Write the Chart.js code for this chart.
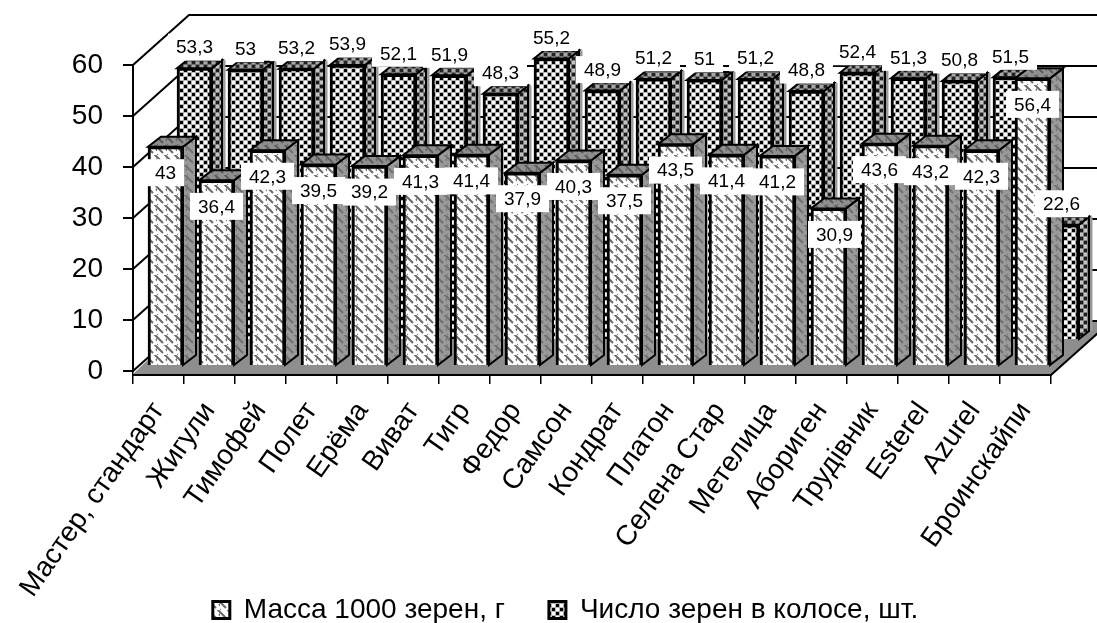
<!DOCTYPE html>
<html>
<head>
<meta charset="utf-8">
<title>Масса 1000 зерен и число зерен в колосе</title>
<script src="https://cdn.jsdelivr.net/npm/chart.js@4"></script>
<style>
  html, body { margin: 0; padding: 0; background: #fff; }
  canvas { display: block; }
</style>
</head>
<body>
<canvas id="grafico" width="1097" height="623"></canvas>
<script>
// Datos
var categorias = ["Мастер, стандарт", "Жигули", "Тимофей", "Полет", "Ерёма", "Виват", "Тигр", "Федор", "Самсон",
    "Кондрат", "Платон", "Селена Стар", "Метелица", "Абориген", "Трудівник", "Esterel", "Azurel", "Броинскайпи"];
var masa = [43, 36.4, 42.3, 39.5, 39.2, 41.3, 41.4, 37.9, 40.3, 37.5, 43.5, 41.4, 41.2, 30.9, 43.6, 43.2, 42.3, 56.4];
var granos = [53.3, 53, 53.2, 53.9, 52.1, 51.9, 48.3, 55.2, 48.9, 51.2, 51, 51.2, 48.8, 52.4, 51.3, 50.8, 51.5, 22.6];
var ticksY = [0, 10, 20, 30, 40, 50, 60];
var nombreMasa = "Масса 1000 зерен, г";
var nombreGranos = "Число зерен в колосе, шт.";

var fuente = "'Liberation Sans', Arial, sans-serif";

// Tramas de relleno (como los patrones de Excel)
function trama(lado, fondo, dibujar) {
    var c = document.createElement("canvas");
    c.width = lado; c.height = lado;
    var g = c.getContext("2d");
    g.fillStyle = fondo;
    g.fillRect(0, 0, lado, lado);
    dibujar(g);
    return g.createPattern(c, "repeat");
}
function tramaDiagonal(fondo, color) {
    return trama(10, fondo, function(g) {
        g.strokeStyle = color;
        g.lineWidth = 2;
        g.beginPath();
        g.moveTo(-1, 1); g.lineTo(6, 8);
        g.moveTo(4, -4); g.lineTo(11, 3);
        g.moveTo(9, 4); g.lineTo(14, 9);
        g.moveTo(-3, 7); g.lineTo(3, 13);
        g.stroke();
    });
}
function tramaPuntos(fondo, negro, blanco) {
    return trama(8, fondo, function(g) {
        g.fillStyle = negro;
        g.fillRect(0, 0, 3, 3);
        g.fillRect(4, 4, 3, 3);
        g.fillStyle = blanco;
        g.fillRect(4, 0, 3, 3);
        g.fillRect(0, 4, 3, 3);
    });
}
var masaFrente = tramaDiagonal("#ffffff", "#6a6a6a");
var masaLado = tramaDiagonal("#9a9a9a", "#707070");
var masaTecho = tramaDiagonal("#909090", "#5c5c5c");
var granosFrente = tramaPuntos("#b4b4b4", "#000000", "#ffffff");
var granosLado = tramaPuntos("#808080", "#1a1a1a", "#c4c4c4");
var granosTecho = tramaPuntos("#707070", "#222222", "#a8a8a8");

// Desplazamiento de cada serie y profundidad de sus barras
var vistas = [
    { dx: 7, dy: -5, fondoX: 13, fondoY: 10, lado: masaLado, techo: masaTecho, textoY: 26 },
    { dx: 36, dy: -31, fondoX: 10, fondoY: 8, lado: granosLado, techo: granosTecho, textoY: -21 }
];
// Etiqueta de Абориген, algo movida en el original
var ajusteEtiqueta = { 13: 6 };

// Plugin para simular el grafico 3D: paredes, suelo, caras laterales y etiquetas
var plugin3D = {
    id: "plugin3D",
    afterLayout: function(chart) {
        // La leyenda se solapa con la caja del eje X, asi que la recolocamos a mano
        var leyenda = chart.legend, x = chart.scales.x;
        x.height = chart.height - x.top;
        x.bottom = chart.height;
        leyenda.left += 40;
        leyenda.right += 40;
        var alto = leyenda.bottom - leyenda.top;
        leyenda.top = 552;
        leyenda.bottom = leyenda.top + alto;
    },
    beforeDatasetsDraw: function(chart) {
        var ctx = chart.ctx, a = chart.chartArea, y = chart.scales.y;
        var px = 56, py = 50;
        ctx.save();
        // suelo
        ctx.fillStyle = "#8e8e8e";
        ctx.beginPath();
        ctx.moveTo(a.left, a.bottom + 3);
        ctx.lineTo(a.right, a.bottom + 4);
        ctx.lineTo(a.right + px, a.bottom + 4 - py);
        ctx.lineTo(a.right + px, a.bottom - py);
        ctx.lineTo(a.left + px, a.bottom - py);
        ctx.closePath();
        ctx.fill();
        // rejilla de pared
        ctx.strokeStyle = "#000";
        ctx.lineWidth = 2;
        ticksY.forEach(function(v) {
            var yy = y.getPixelForValue(v);
            ctx.beginPath();
            ctx.moveTo(a.left, yy);
            ctx.lineTo(a.left + px, yy - py);
            ctx.lineTo(chart.width, yy - py);
            ctx.stroke();
        });
        ctx.beginPath();
        ctx.moveTo(a.left, a.bottom + 4);
        ctx.lineTo(a.right, a.bottom + 4);
        ctx.lineTo(a.right + px, a.bottom + 4 - py);
        ctx.stroke();
        ctx.restore();
    },
    beforeDatasetDraw: function(chart, args) {
        var v = vistas[args.index];
        chart.ctx.save();
        chart.ctx.translate(v.dx, v.dy);
    },
    afterDatasetDraw: function(chart, args) {
        var ctx = chart.ctx, v = vistas[args.index];
        ctx.strokeStyle = "#000";
        ctx.lineWidth = 2;
        args.meta.data.forEach(function(barra) {
            var izq = barra.x - barra.width / 2, der = barra.x + barra.width / 2;
            // franja clara junto a las barras del fondo
            if (args.index === 1) {
                ctx.save();
                ctx.strokeStyle = "#9a9a9a";
                ctx.lineWidth = 3;
                ctx.beginPath();
                ctx.moveTo(der + v.fondoX + 2, barra.y - v.fondoY);
                ctx.lineTo(der + v.fondoX + 2, barra.base - v.fondoY);
                ctx.stroke();
                ctx.restore();
            }
            ctx.fillStyle = v.lado;
            ctx.beginPath();
            ctx.moveTo(der, barra.y);
            ctx.lineTo(der + v.fondoX, barra.y - v.fondoY);
            ctx.lineTo(der + v.fondoX, barra.base - v.fondoY);
            ctx.lineTo(der, barra.base);
            ctx.closePath();
            ctx.fill();
            ctx.stroke();
            ctx.fillStyle = v.techo;
            ctx.beginPath();
            ctx.moveTo(izq, barra.y);
            ctx.lineTo(izq + v.fondoX, barra.y - v.fondoY);
            ctx.lineTo(der + v.fondoX, barra.y - v.fondoY);
            ctx.lineTo(der, barra.y);
            ctx.closePath();
            ctx.fill();
            ctx.stroke();
        });
        ctx.restore();
    },
    afterDatasetsDraw: function(chart) {
        var ctx = chart.ctx;
        ctx.save();
        ctx.font = "19px " + fuente;
        ctx.textAlign = "center";
        ctx.textBaseline = "middle";
        [1, 0].forEach(function(i) {
            var v = vistas[i], valores = chart.data.datasets[i].data;
            chart.getDatasetMeta(i).data.forEach(function(barra, j) {
                var texto = String(valores[j]).replace(".", ",");
                var x = barra.x + v.dx, yy = barra.y + v.dy + v.textoY;
                if (i === 0 && ajusteEtiqueta[j]) { x += ajusteEtiqueta[j]; }
                var ancho = ctx.measureText(texto).width + 16;
                ctx.fillStyle = "#fff";
                ctx.fillRect(x - ancho / 2, yy - 13.5, ancho, 27);
                ctx.fillStyle = "#000";
                ctx.fillText(texto, x, yy + 1);
            });
        });
        ctx.restore();
    }
};

new Chart(document.getElementById("grafico").getContext("2d"), {
    type: "bar",
    data: {
        labels: categorias,
        datasets: [
            { label: nombreMasa, data: masa, order: 0, backgroundColor: masaFrente, borderColor: "#000", borderWidth: 3, barThickness: 35, grouped: false, clip: false },
            { label: nombreGranos, data: granos, order: 1, backgroundColor: granosFrente, borderColor: "#000", borderWidth: 3, barThickness: 35, grouped: false, clip: false }
        ]
    },
    options: {
        responsive: false,
        animation: false,
        layout: { padding: { left: 0, right: 46, top: 65, bottom: 0 } },
        plugins: {
            tooltip: { enabled: false },
            legend: {
                position: "bottom",
                labels: { font: { family: fuente, size: 28 }, color: "#000", boxWidth: 17, boxHeight: 17, padding: 44 }
            }
        },
        scales: {
            x: {
                offset: true,
                border: { display: false },
                grid: { offset: true, drawOnChartArea: false, drawTicks: true, tickLength: 13, color: "#000", lineWidth: 1.5 },
                ticks: { autoSkip: false, minRotation: 55, maxRotation: 55, color: "#000", padding: 12, font: { family: fuente, size: 28 } },
                afterFit: function(escala) { escala.height = 170; }
            },
            y: {
                min: 0,
                max: 60,
                border: { display: true, color: "#000", width: 2 },
                grid: { drawOnChartArea: false, drawTicks: true, tickLength: 10, color: "#000", lineWidth: 2 },
                ticks: { stepSize: 10, color: "#000", padding: 20, font: { family: fuente, size: 28 } },
                afterFit: function(escala) { escala.width = 133; }
            }
        }
    },
    plugins: [plugin3D]
});
</script>
</body>
</html>
